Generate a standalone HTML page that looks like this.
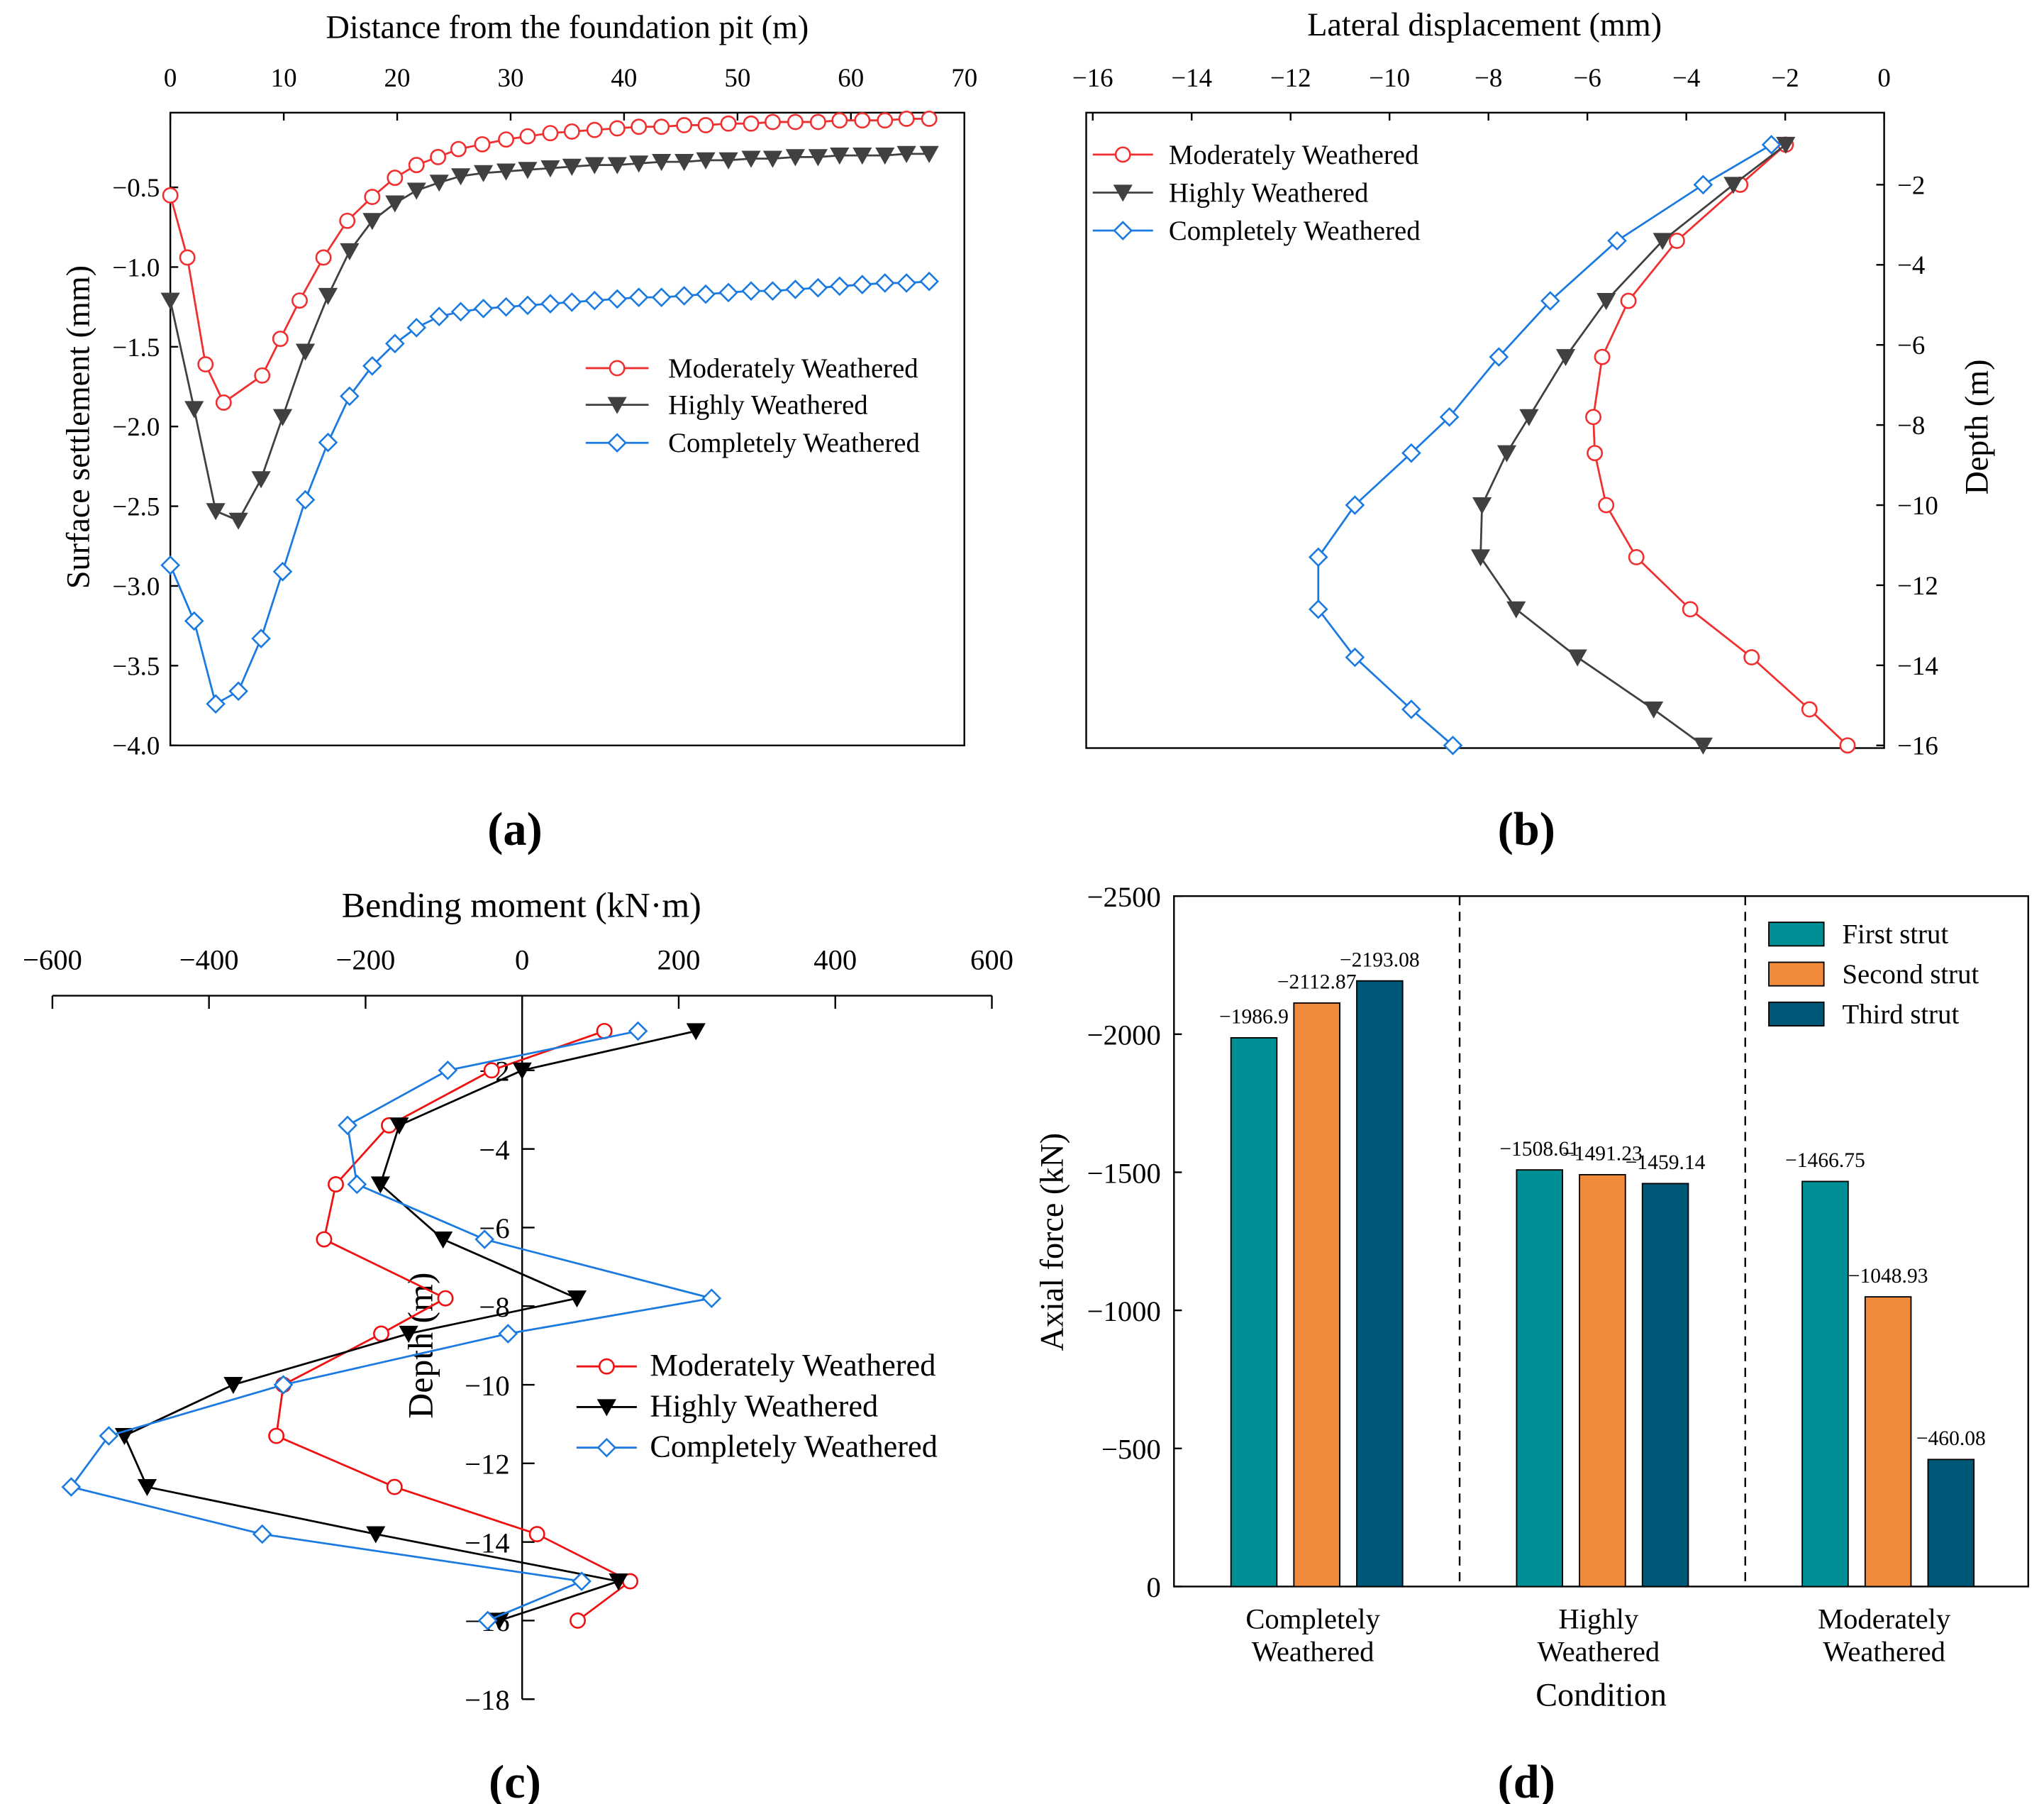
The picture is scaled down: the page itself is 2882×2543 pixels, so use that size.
<!DOCTYPE html>
<html><head><meta charset="utf-8"><style>
html,body{margin:0;padding:0;background:#fff}
svg{display:block}
text{font-family:"Liberation Serif",serif;fill:#000}
</style></head><body>
<svg id="fig" width="2882" height="2543" viewBox="0 0 1560 1377" preserveAspectRatio="none" xmlns="http://www.w3.org/2000/svg">
<rect width="1560" height="1377" fill="#fff"/>
</svg>
<script>
// ---------- Data ----------
// (a) surface settlement
const aRedX=[0,1.5,3.1,4.7,8.1,9.7,11.4,13.5,15.6,17.8,19.8,21.7,23.6,25.4,27.5,29.6,31.5,33.5,35.4,37.4,39.4,41.3,43.3,45.3,47.2,49.2,51.2,53.1,55.1,57.1,59.0,61.0,63.0,64.9,66.9];
const aRedY=[-0.55,-0.94,-1.61,-1.85,-1.68,-1.45,-1.21,-0.94,-0.71,-0.56,-0.44,-0.36,-0.31,-0.26,-0.23,-0.20,-0.18,-0.16,-0.15,-0.14,-0.13,-0.12,-0.12,-0.11,-0.11,-0.10,-0.10,-0.09,-0.09,-0.09,-0.08,-0.08,-0.08,-0.07,-0.07];
const aX=[0,2.1,4,6,8,9.9,11.9,13.9,15.8,17.8,19.8,21.7,23.7,25.6,27.6,29.6,31.5,33.5,35.4,37.4,39.4,41.3,43.3,45.3,47.2,49.2,51.2,53.1,55.1,57.1,59.0,61.0,63.0,64.9,66.9];
const aBlackY=[-1.21,-1.89,-2.53,-2.59,-2.33,-1.94,-1.53,-1.18,-0.90,-0.71,-0.60,-0.52,-0.47,-0.43,-0.41,-0.40,-0.39,-0.38,-0.37,-0.36,-0.36,-0.35,-0.34,-0.34,-0.33,-0.33,-0.32,-0.32,-0.31,-0.31,-0.30,-0.30,-0.30,-0.29,-0.29];
const aBlueY=[-2.87,-3.22,-3.74,-3.66,-3.33,-2.91,-2.46,-2.10,-1.81,-1.62,-1.48,-1.38,-1.31,-1.28,-1.26,-1.25,-1.24,-1.23,-1.22,-1.21,-1.20,-1.19,-1.19,-1.18,-1.17,-1.16,-1.15,-1.15,-1.14,-1.13,-1.12,-1.11,-1.10,-1.10,-1.09];
const aXTicks=[0,10,20,30,40,50,60,70];
const aYTicks=[-4.0,-3.5,-3.0,-2.5,-2.0,-1.5,-1.0,-0.5];
// (b) lateral displacement
const bDepth=[-1,-2,-3.4,-4.9,-6.3,-7.8,-8.7,-10,-11.3,-12.6,-13.8,-15.1,-16];
const bRed=[-1.99,-2.91,-4.19,-5.17,-5.70,-5.88,-5.85,-5.62,-5.01,-3.92,-2.68,-1.51,-0.74];
const bBlack=[-1.99,-3.05,-4.48,-5.62,-6.44,-7.18,-7.63,-8.13,-8.16,-7.44,-6.20,-4.66,-3.66];
const bBlue=[-2.28,-3.66,-5.40,-6.75,-7.79,-8.79,-9.56,-10.70,-11.44,-11.44,-10.70,-9.56,-8.72];
const bXTicks=[-16,-14,-12,-10,-8,-6,-4,-2,0];
const bYTicks=[-2,-4,-6,-8,-10,-12,-14,-16];
// (c) bending moment
const cDepth=[-1,-2,-3.4,-4.9,-6.3,-7.8,-8.7,-10,-11.3,-12.6,-13.8,-15,-16];
const cRed=[105,-39,-170,-238,-253,-98,-180,-305,-314,-163,19,138,71];
const cBlack=[222,0,-157,-181,-101,70,-145,-369,-508,-479,-187,123,-29];
const cBlue=[148,-95,-223,-211,-48,242,-18,-305,-528,-576,-332,76,-44];
const cXTicks=[-600,-400,-200,0,200,400,600];
const cYTicks=[-2,-4,-6,-8,-10,-12,-14,-16,-18];
// (d) axial force
const dCategories=[["Completely","Weathered"],["Highly","Weathered"],["Moderately","Weathered"]];
const dFirst=[-1986.9,-1508.61,-1466.75];
const dSecond=[-2112.87,-1491.23,-1048.93];
const dThird=[-2193.08,-1459.14,-460.08];
const dYTicks=[0,-500,-1000,-1500,-2000,-2500];
const dSeriesNames=["First strut","Second strut","Third strut"];

// ---------- Helpers ----------
const NS="http://www.w3.org/2000/svg";
const svg=document.getElementById('fig');
function el(tag,attrs,parent){const e=document.createElementNS(NS,tag);for(const k in attrs)e.setAttribute(k,attrs[k]);(parent||svg).appendChild(e);return e;}
function txt(str,x,y,size,anchor,parent,extra){const t=el('text',Object.assign({x:x,y:y,'font-size':size,'text-anchor':anchor||'middle'},extra||{}),parent);t.textContent=str;return t;}
function fmt(v,dec){return (v<0?'\u2212':'')+Math.abs(v).toFixed(dec);}
function marker(kind,x,y,color,parent){
  let m;
  if(kind==='circle'){m=el('circle',{cx:x,cy:y,r:5.5,fill:'#fff',stroke:color,'stroke-width':1.4},parent);}
  else if(kind==='tri'){m=el('polygon',{points:`${x-6.5},${y-5.5} ${x+6.5},${y-5.5} ${x},${y+6}`,fill:color,stroke:color,'stroke-width':1},parent);}
  else {m=el('polygon',{points:`${x},${y-6.5} ${x+6.5},${y} ${x},${y+6.5} ${x-6.5},${y}`,fill:'#fff',stroke:color,'stroke-width':1.4},parent);}
  return m;
}
function series(xs,ys,sx,sy,color,kind,parent,name){
  const g=el('g',{},parent);
  
  
  const pts=xs.map((v,i)=>sx(v)+','+sy(ys[i])).join(' ');
  el('polyline',{points:pts,fill:'none',stroke:color,'stroke-width':1.5},g);
  xs.forEach((v,i)=>{const m=marker(kind,sx(v),sy(ys[i]),color,g);
    
    });
}
function legendEntry(parent,x1,x2,y,color,kind,label,tx,name,size){
  const g=el('g',{},parent);
  
  
  el('line',{x1:x1,x2:x2,y1:y,y2:y,stroke:color,'stroke-width':1.5},g);
  marker(kind,(x1+x2)/2,y,color,g);
  txt(label,tx,y+7,size,'start',g);
}

// ---------- Panel (a) ----------
(function(){
  const g=el('g',{});
  
  
  const L=130,R=736,T=86,B=569;
  const sx=v=>L+v*(R-L)/70;
  const sy=v=>143+(-0.5-v)*121.7;
  el('rect',{x:L,y:T,width:R-L,height:B-T,fill:'none',stroke:'#000','stroke-width':1.3},g);
  aXTicks.forEach(v=>{el('line',{x1:sx(v),x2:sx(v),y1:T,y2:T+6,stroke:'#000','stroke-width':1.3},g);const t=txt(String(v),sx(v),66,20,'middle',g);
    });
  aYTicks.forEach(v=>{el('line',{x1:L,x2:L+6,y1:sy(v),y2:sy(v),stroke:'#000','stroke-width':1.3},g);const t=txt(fmt(v,1),L-8,sy(v)+7,20,'end',g);
    });
  const xt=txt('Distance from the foundation pit (m)',433,29,25,'middle',g);
  
  const yt=txt('Surface settlement (mm)',0,0,25,'middle',g,{transform:'translate(68,326) rotate(-90)'});
  
  series(aRedX,aRedY,sx,sy,'#f03030','circle',g,'series-moderately');
  series(aX,aBlackY,sx,sy,'#404040','tri',g,'series-highly');
  series(aX,aBlueY,sx,sy,'#1a7ae0','diamond',g,'series-completely');
  legendEntry(g,447,495,281,'#f03030','circle','Moderately Weathered',510,'legend-moderately',21);
  legendEntry(g,447,495,309,'#404040','tri','Highly Weathered',510,'legend-highly',21);
  legendEntry(g,447,495,338,'#1a7ae0','diamond','Completely Weathered',510,'legend-completely',21);
  const lab=txt('(a)',393,645,36,'middle',g,{'font-weight':'bold'});
  
})();

// ---------- Panel (b) ----------
(function(){
  const g=el('g',{});
  
  
  const L=829,R=1438,T=86,B=571;
  const sx=v=>1438+v*37.75;
  const sy=v=>141+(-2-v)*30.57;
  el('rect',{x:L,y:T,width:R-L,height:B-T,fill:'none',stroke:'#000','stroke-width':1.3},g);
  bXTicks.forEach(v=>{el('line',{x1:sx(v),x2:sx(v),y1:T,y2:T+6,stroke:'#000','stroke-width':1.3},g);const t=txt(fmt(v,0),sx(v),66,20,'middle',g);
    });
  bYTicks.forEach(v=>{el('line',{x1:R-6,x2:R,y1:sy(v),y2:sy(v),stroke:'#000','stroke-width':1.3},g);const t=txt(fmt(v,0),R+10,sy(v)+7,20,'start',g);
    });
  const xt=txt('Lateral displacement (mm)',1133,27,25,'middle',g);
  
  const yt=txt('Depth (m)',0,0,25,'middle',g,{transform:'translate(1517,326) rotate(-90)'});
  
  series(bRed,bDepth,sx,sy,'#f03030','circle',g,'series-moderately');
  series(bBlack,bDepth,sx,sy,'#404040','tri',g,'series-highly');
  series(bBlue,bDepth,sx,sy,'#1a7ae0','diamond',g,'series-completely');
  legendEntry(g,834,880,118,'#f03030','circle','Moderately Weathered',892,'legend-moderately',21);
  legendEntry(g,834,880,147,'#404040','tri','Highly Weathered',892,'legend-highly',21);
  legendEntry(g,834,880,176,'#1a7ae0','diamond','Completely Weathered',892,'legend-completely',21);
  const lab=txt('(b)',1165,645,36,'middle',g,{'font-weight':'bold'});
  
})();

// ---------- Panel (c) ----------
(function(){
  const g=el('g',{});
  
  
  const sx=v=>398.5+v*0.5975;
  const sy=v=>757-v*30;
  el('line',{x1:sx(-600),x2:sx(600),y1:760,y2:760,stroke:'#000','stroke-width':1.3},g);
  el('line',{x1:398.5,x2:398.5,y1:760,y2:1297,stroke:'#000','stroke-width':1.3},g);
  cXTicks.forEach(v=>{el('line',{x1:sx(v),x2:sx(v),y1:760,y2:770,stroke:'#000','stroke-width':1.3},g);const t=txt(fmt(v,0),sx(v),740,22,'middle',g);
    });
  cYTicks.forEach(v=>{el('line',{x1:398.5,x2:408,y1:sy(v),y2:sy(v),stroke:'#000','stroke-width':1.3},g);const t=txt(fmt(v,0),389,sy(v)+8,22,'end',g);
    });
  const xt=txt('Bending moment (kN\u00b7m)',398,700,27,'middle',g);
  
  const yt=txt('Depth (m)',0,0,27,'middle',g,{transform:'translate(330,1027) rotate(-90)'});
  
  series(cRed,cDepth,sx,sy,'#f01010','circle',g,'series-moderately');
  series(cBlack,cDepth,sx,sy,'#000','tri',g,'series-highly');
  series(cBlue,cDepth,sx,sy,'#1a7ae0','diamond',g,'series-completely');
  legendEntry(g,440,486,1043,'#f01010','circle','Moderately Weathered',496,'legend-moderately',24);
  legendEntry(g,440,486,1074,'#000','tri','Highly Weathered',496,'legend-highly',24);
  legendEntry(g,440,486,1105,'#1a7ae0','diamond','Completely Weathered',496,'legend-completely',24);
  const lab=txt('(c)',393,1372,36,'middle',g,{'font-weight':'bold'});
  
})();

// ---------- Panel (d) ----------
(function(){
  const g=el('g',{});
  
  
  const L=896,R=1548,T=684,B=1211;
  const sy=v=>B+v*0.2108;
  const groupX=i=>1005+i*218;
  const colors=['#008f94','#f28a3c','#005878'];
  const offs=[-48,0,48];
  el('rect',{x:L,y:T,width:R-L,height:B-T,fill:'none',stroke:'#000','stroke-width':1.3},g);
  dYTicks.forEach(v=>{el('line',{x1:L,x2:L+6,y1:sy(v),y2:sy(v),stroke:'#000','stroke-width':1.3},g);const t=txt(fmt(v,0),L-10,sy(v)+8,22,'end',g);
    });
  [0.5,1.5].forEach(p=>{const x=groupX(p);el('line',{x1:x,x2:x,y1:T,y2:B,stroke:'#000','stroke-width':1.3,'stroke-dasharray':'7,5'},g);});
  const all=[dFirst,dSecond,dThird];
  dCategories.forEach((c,i)=>{
    el('line',{x1:groupX(i),x2:groupX(i),y1:B,y2:B-6,stroke:'#000'},g);
    const t1=txt(c[0],groupX(i)-3,1243,22,'middle',g);
    
    const t2=txt(c[1],groupX(i)-3,1268,22,'middle',g);
    
    all.forEach((arr,s)=>{
      const v=arr[i];const x=groupX(i)+offs[s]-17.5;
      const r=el('rect',{x:x,y:sy(v),width:35,height:B-sy(v),fill:colors[s],stroke:'#000','stroke-width':1},g);
      
      
      const lt=txt(fmt(v,2).replace(/0$/,'').replace(/\.$/,''),x+17.5,sy(v)-11,16,'middle',g);
      
    });
  });
  const xt=txt('Condition',1222,1302,25,'middle',g);
  
  const yt=txt('Axial force (kN)',0,0,25,'middle',g,{transform:'translate(811,948) rotate(-90)'});
  
  dSeriesNames.forEach((n,s)=>{
    const lg=el('g',{},g);
    
    
    el('rect',{x:1350,y:704+s*30.5,width:42,height:18,fill:colors[s],stroke:'#000','stroke-width':1},lg);
    txt(n,1406,720+s*30.5,21,'start',lg);
  });
  const lab=txt('(d)',1165,1372,36,'middle',g,{'font-weight':'bold'});
  
})();
</script>
</body></html>
